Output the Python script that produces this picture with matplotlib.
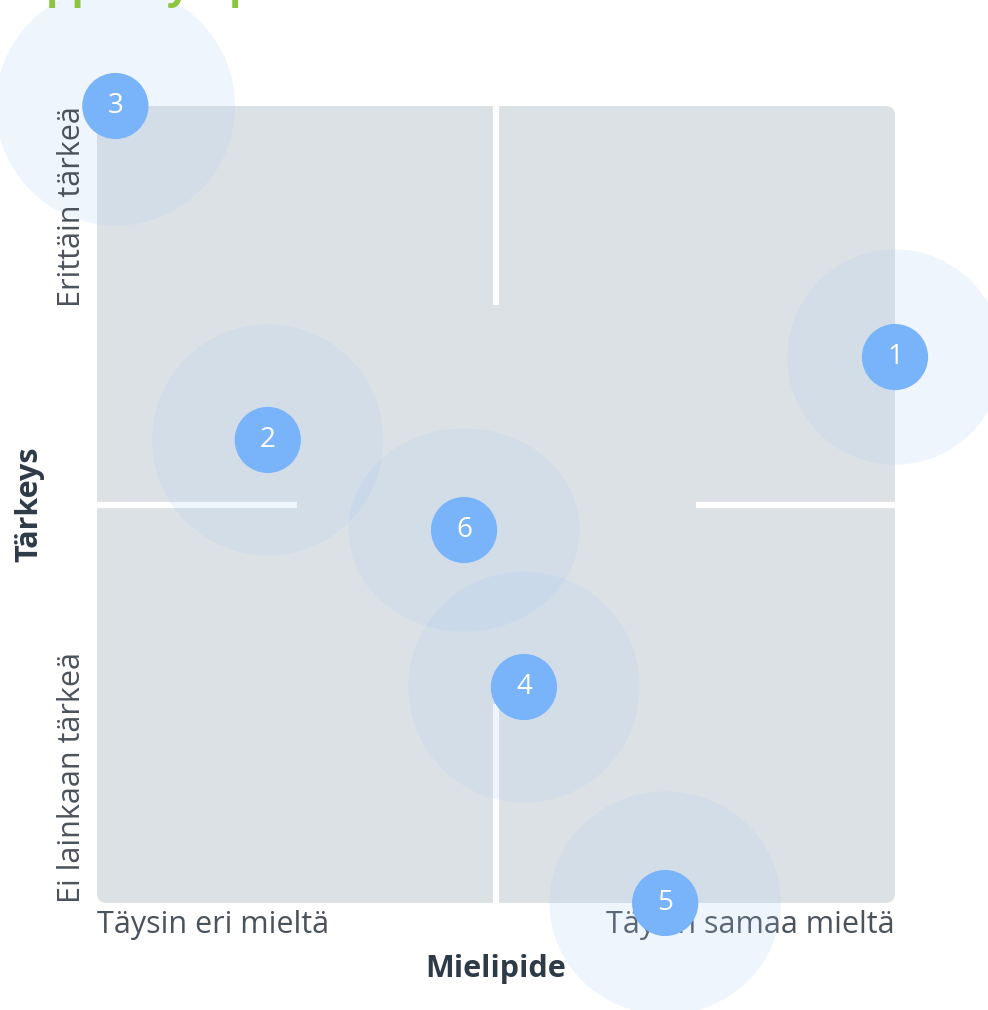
import matplotlib.pyplot as plt
from matplotlib.patches import FancyBboxPatch, Ellipse

plt.rcParams['font.family'] = ['Open Sans', 'DejaVu Sans']

# kysymykset: mielipide (x) ja tärkeys (y), asteikko 0..1
labels = ['1', '2', '3', '4', '5', '6']
mielipide = [1.00, 0.214, 0.023, 0.535, 0.712, 0.460]
tarkeys = [0.685, 0.581, 1.00, 0.271, 0.0, 0.468]
halo_w = [0.27, 0.29, 0.30, 0.29, 0.29, 0.29]
halo_h = [0.27, 0.29, 0.30, 0.29, 0.28, 0.255]

x_ticks = ['Täysin eri mieltä', 'Täysin samaa mieltä']
y_ticks = ['Ei lainkaan tärkeä', 'Erittäin tärkeä']
x_title = 'Mielipide'
y_title = 'Tärkeys'
title = 'Oppiva ympäristö'

W, H = 988, 1010
fig = plt.figure(figsize=(W / 100, H / 100), dpi=100)
x0, x1, y0, y1 = 97, 895, 106, 903
ax = fig.add_axes([x0 / W, 1 - y1 / H, (x1 - x0) / W, (y1 - y0) / H])
ax.set_xlim(0, 1)
ax.set_ylim(0, 1)
ax.axis('off')

gray = '#dce1e6'
bg = FancyBboxPatch((0, 0), 1, 1, boxstyle='round,pad=0,rounding_size=0.012',
                    fc=gray, ec='none', zorder=0)
ax.add_patch(bg)

# valkoiset jakoviivat
lw = 4.5
ax.plot([0.5, 0.5], [1, 0.75], color='white', lw=lw, zorder=1, solid_capstyle='butt')
ax.plot([0.5, 0.5], [0, 0.25], color='white', lw=lw, zorder=1, solid_capstyle='butt')
ax.plot([0, 0.25], [0.5, 0.5], color='white', lw=lw, zorder=1, solid_capstyle='butt')
ax.plot([0.75, 1], [0.5, 0.5], color='white', lw=lw, zorder=1, solid_capstyle='butt')

for i in range(len(labels)):
    e = Ellipse((mielipide[i], tarkeys[i]), halo_w[i], halo_h[i], fc='#a8ccf5',
                alpha=0.18, ec='none', zorder=2, clip_on=False)
    ax.add_patch(e)
for i in range(len(labels)):
    c = Ellipse((mielipide[i], tarkeys[i]), 0.083, 0.083, fc='#79b4fa', ec='none',
                zorder=3, clip_on=False)
    ax.add_patch(c)
    ax.text(mielipide[i], tarkeys[i], labels[i], color='white', fontsize=20,
            ha='center', va='center', zorder=4)

tc = '#4a525c'
fs = 22
ax.text(0, -0.028, x_ticks[0], ha='left', va='center', fontsize=fs, color=tc, zorder=1)
ax.text(1, -0.028, x_ticks[1], ha='right', va='center', fontsize=fs, color=tc, zorder=1)
ax.text(-0.031, 0, y_ticks[0], ha='center', va='bottom', rotation=90, fontsize=fs, color=tc)
ax.text(-0.031, 1, y_ticks[1], ha='center', va='top', rotation=90, fontsize=fs, color=tc)
ax.text(0.5, -0.083, x_title, ha='center', va='center', fontsize=fs, color='#2e3a48',
        fontweight='bold')
ax.text(-0.085, 0.5, y_title, ha='center', va='center', rotation=90, fontsize=fs,
        color='#2e3a48', fontweight='bold')

fig.text(14 / W, 1 + 1 / H, title, color='#8cc63f', fontsize=29, fontweight='bold',
         ha='left', va='baseline')

fig.savefig('out.png', dpi=100)
